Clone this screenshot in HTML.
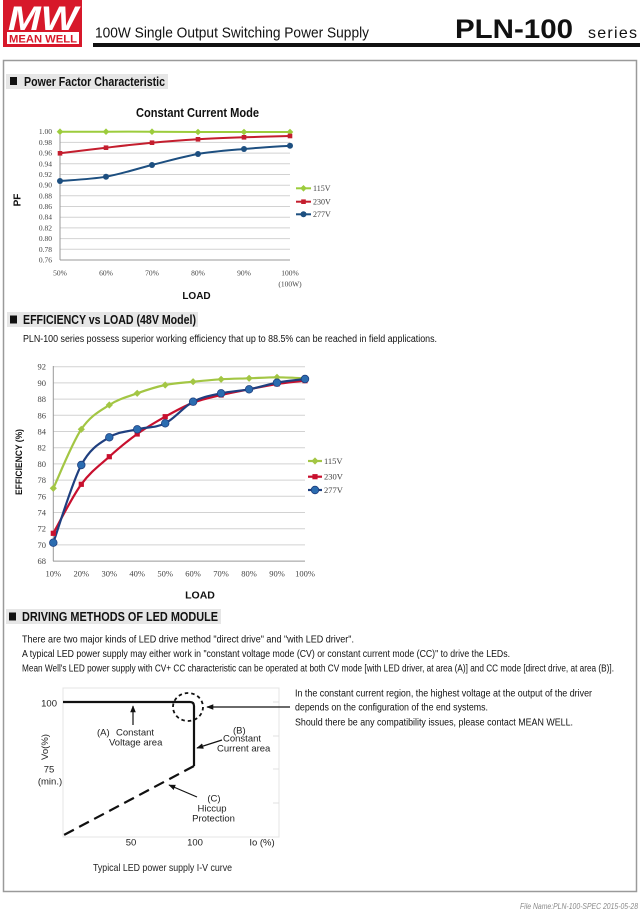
<!DOCTYPE html>
<html><head><meta charset="utf-8"><style>
html,body{margin:0;padding:0;background:#fff;}
svg{display:block;}
text{font-family:"Liberation Sans",Arial,sans-serif;}
.serif text, text.serif{font-family:"Liberation Serif","Times New Roman",serif;}
</style></head><body>
<svg width="640" height="910" viewBox="0 0 640 910" xmlns="http://www.w3.org/2000/svg">
<defs>
<path id="dia" d="M0,-3.3 L3.3,0 L0,3.3 L-3.3,0Z"/>
<rect id="sq" x="-2.3" y="-2.3" width="4.6" height="4.6"/>
<circle id="cir" r="3"/>
<circle id="cirB" r="3.8"/>
<rect id="sqB" x="-2.6" y="-2.6" width="5.2" height="5.2"/>
<path id="diaB" d="M0,-3.6 L3.6,0 L0,3.6 L-3.6,0Z"/>
<marker id="ah" viewBox="0 0 10 10" refX="9" refY="5" markerWidth="7" markerHeight="7" orient="auto-start-reverse" markerUnits="userSpaceOnUse"><path d="M0,1 L10,5 L0,9Z" fill="#111"/></marker>
</defs>
<rect width="640" height="910" fill="#fff"/>

<!-- Header -->
<rect x="3" y="0" width="79" height="47" fill="#d7182a"/>
<text x="8" y="30" font-size="34" font-weight="bold" font-style="italic" fill="#fff" textLength="70" lengthAdjust="spacingAndGlyphs">MW</text>
<rect x="7" y="32" width="72" height="12" fill="#fff"/>
<text x="9" y="42.5" font-size="11" font-weight="bold" fill="#d7182a" textLength="68" lengthAdjust="spacingAndGlyphs">MEAN WELL</text>
<text x="95" y="37.5" font-size="14.5" fill="#111" textLength="274" lengthAdjust="spacingAndGlyphs">100W Single Output Switching Power Supply</text>
<text x="455" y="38" font-size="27" font-weight="bold" fill="#111" textLength="118" lengthAdjust="spacingAndGlyphs">PLN-100</text>
<text x="588" y="38" font-size="16" fill="#111" textLength="49" lengthAdjust="spacing">series</text>
<rect x="93" y="43" width="547" height="4" fill="#111"/>

<!-- Outer box -->
<rect x="3.5" y="60.5" width="633" height="831" fill="none" stroke="#9a9a9a" stroke-width="1.5"/>

<!-- Section 1 -->
<rect x="6" y="74" width="162" height="15" fill="#e6e6e6"/>
<rect x="10" y="77" width="7" height="8" fill="#111"/>
<text x="24" y="86" font-size="12.5" font-weight="bold" fill="#111" textLength="141" lengthAdjust="spacingAndGlyphs">Power Factor Characteristic</text>

<!-- PF chart -->
<text x="136" y="117" font-size="12.5" font-weight="bold" fill="#111" textLength="123" lengthAdjust="spacingAndGlyphs">Constant Current Mode</text>
<g stroke="#d2d2d2" stroke-width="1">
<line x1="60" x2="290" y1="131.7" y2="131.7"/><line x1="60" x2="290" y1="142.4" y2="142.4"/>
<line x1="60" x2="290" y1="153.1" y2="153.1"/><line x1="60" x2="290" y1="163.8" y2="163.8"/>
<line x1="60" x2="290" y1="174.5" y2="174.5"/><line x1="60" x2="290" y1="185.2" y2="185.2"/>
<line x1="60" x2="290" y1="195.8" y2="195.8"/><line x1="60" x2="290" y1="206.5" y2="206.5"/>
<line x1="60" x2="290" y1="217.2" y2="217.2"/><line x1="60" x2="290" y1="227.9" y2="227.9"/>
<line x1="60" x2="290" y1="238.6" y2="238.6"/><line x1="60" x2="290" y1="249.3" y2="249.3"/>
</g>
<line x1="60" x2="60" y1="131" y2="260" stroke="#999"/>
<line x1="60" x2="290" y1="260" y2="260" stroke="#999"/>
<g class="serif" font-size="7.5" fill="#444" text-anchor="end">
<text x="52" y="134.2">1.00</text><text x="52" y="144.9">0.98</text><text x="52" y="155.6">0.96</text>
<text x="52" y="166.3">0.94</text><text x="52" y="177">0.92</text><text x="52" y="187.7">0.90</text>
<text x="52" y="198.3">0.88</text><text x="52" y="209">0.86</text><text x="52" y="219.7">0.84</text>
<text x="52" y="230.4">0.82</text><text x="52" y="241.1">0.80</text><text x="52" y="251.8">0.78</text>
<text x="52" y="262.5">0.76</text>
</g>
<g class="serif" font-size="7.5" fill="#444" text-anchor="middle">
<text x="60" y="275.5">50%</text><text x="106" y="275.5">60%</text><text x="152" y="275.5">70%</text>
<text x="198" y="275.5">80%</text><text x="244" y="275.5">90%</text><text x="290" y="275.5">100%</text>
<text x="290" y="286.5">(100W)</text>
</g>
<text x="196.5" y="299" font-size="10" font-weight="bold" fill="#111" text-anchor="middle">LOAD</text>
<text transform="translate(20.5,200) rotate(-90)" font-size="10" font-weight="bold" fill="#111" text-anchor="middle">PF</text>

<path id="pfg" d="M60,131.7 L106,131.7 L152,131.7 L198,132 L244,132 L290,132" fill="none" stroke="#9ccc3c" stroke-width="2"/>
<path id="pfr" d="M60,153.3 L106,147.7 L152,142.7 L198,139.3 L244,137.3 L290,136" fill="none" stroke="#c41e2e" stroke-width="2"/>
<path id="pfb" d="M60,181 L106,176.7 L152,165 L198,154 L244,149 L290,145.7" fill="none" stroke="#1d4f80" stroke-width="2"/>
<g fill="#9ccc3c">
<use href="#dia" x="60" y="131.7"/><use href="#dia" x="106" y="131.7"/><use href="#dia" x="152" y="131.7"/>
<use href="#dia" x="198" y="132"/><use href="#dia" x="244" y="132"/><use href="#dia" x="290" y="132"/>
</g>
<g fill="#c41e2e">
<use href="#sq" x="60" y="153.3"/><use href="#sq" x="106" y="147.7"/><use href="#sq" x="152" y="142.7"/>
<use href="#sq" x="198" y="139.3"/><use href="#sq" x="244" y="137.3"/><use href="#sq" x="290" y="136"/>
</g>
<g fill="#1d4f80">
<use href="#cir" x="60" y="181"/><use href="#cir" x="106" y="176.7"/><use href="#cir" x="152" y="165"/>
<use href="#cir" x="198" y="154"/><use href="#cir" x="244" y="149"/><use href="#cir" x="290" y="145.7"/>
</g>
<!-- PF legend -->
<line x1="296" x2="311" y1="188.3" y2="188.3" stroke="#9ccc3c" stroke-width="2"/><use href="#dia" x="303.5" y="188.3" fill="#9ccc3c"/>
<line x1="296" x2="311" y1="201.7" y2="201.7" stroke="#c41e2e" stroke-width="2"/><use href="#sq" x="303.5" y="201.7" fill="#c41e2e"/>
<line x1="296" x2="311" y1="214.3" y2="214.3" stroke="#1d4f80" stroke-width="2"/><use href="#cir" x="303.5" y="214.3" fill="#1d4f80"/>
<g class="serif" font-size="8" fill="#444">
<text x="313" y="191">115V</text><text x="313" y="204.5">230V</text><text x="313" y="217">277V</text>
</g>

<!-- Section 2 -->
<rect x="7" y="312" width="191" height="15" fill="#e6e6e6"/>
<rect x="10" y="315.5" width="7" height="8" fill="#111"/>
<text x="23" y="324" font-size="12.5" font-weight="bold" fill="#111" textLength="173" lengthAdjust="spacingAndGlyphs">EFFICIENCY vs LOAD (48V Model)</text>
<text x="23" y="342" font-size="10" fill="#111" textLength="414" lengthAdjust="spacingAndGlyphs">PLN-100 series possess superior working efficiency that up to 88.5% can be reached in field applications.</text>

<!-- Efficiency chart -->
<g stroke="#d2d2d2" stroke-width="1">
<line x1="53" x2="305" y1="366.7" y2="366.7"/><line x1="53" x2="305" y1="382.9" y2="382.9"/>
<line x1="53" x2="305" y1="399.1" y2="399.1"/><line x1="53" x2="305" y1="415.3" y2="415.3"/>
<line x1="53" x2="305" y1="431.5" y2="431.5"/><line x1="53" x2="305" y1="447.7" y2="447.7"/>
<line x1="53" x2="305" y1="463.9" y2="463.9"/><line x1="53" x2="305" y1="480.1" y2="480.1"/>
<line x1="53" x2="305" y1="496.3" y2="496.3"/><line x1="53" x2="305" y1="512.5" y2="512.5"/>
<line x1="53" x2="305" y1="528.7" y2="528.7"/><line x1="53" x2="305" y1="544.9" y2="544.9"/>
</g>
<line x1="53.3" x2="53.3" y1="366" y2="561.1" stroke="#999"/>
<line x1="53" x2="305" y1="561.1" y2="561.1" stroke="#999"/>
<g class="serif" font-size="8.5" fill="#444" text-anchor="end">
<text x="46" y="369.7">92</text><text x="46" y="385.9">90</text><text x="46" y="402.1">88</text>
<text x="46" y="418.3">86</text><text x="46" y="434.5">84</text><text x="46" y="450.7">82</text>
<text x="46" y="466.9">80</text><text x="46" y="483.1">78</text><text x="46" y="499.3">76</text>
<text x="46" y="515.5">74</text><text x="46" y="531.7">72</text><text x="46" y="547.9">70</text>
<text x="46" y="564.1">68</text>
</g>
<g class="serif" font-size="8.5" fill="#444" text-anchor="middle">
<text x="53.3" y="576.3">10%</text><text x="81.3" y="576.3">20%</text><text x="109.3" y="576.3">30%</text>
<text x="137.2" y="576.3">40%</text><text x="165.2" y="576.3">50%</text><text x="193.1" y="576.3">60%</text>
<text x="221.1" y="576.3">70%</text><text x="249.1" y="576.3">80%</text><text x="277" y="576.3">90%</text>
<text x="305" y="576.3">100%</text>
</g>
<text x="200" y="598.5" font-size="10.5" font-weight="bold" fill="#111" text-anchor="middle">LOAD</text>
<text transform="translate(22,462) rotate(-90)" font-size="9.5" font-weight="bold" fill="#111" text-anchor="middle" textLength="66" lengthAdjust="spacingAndGlyphs">EFFICIENCY (%)</text>

<path id="efg" d="M53.3,488.3 L81.3,429.3 L109.3,405 L137.2,393.3 L165.2,385 L193.1,381.7 L221.1,379.3 L249.1,378.3 L277,377.3 L305,378.3" fill="none" stroke="#a3c644" stroke-width="2.2"/>
<path id="efr" d="M53.3,533.3 L81.3,484.3 L109.3,456.7 L137.2,434 L165.2,416.7 L193.1,402.7 L221.1,395 L249.1,389.3 L277,384 L305,380.7" fill="none" stroke="#c8102e" stroke-width="2.2"/>
<path id="efb" d="M53.3,542.7 L81.3,465 L109.3,437.3 L137.2,429.3 L165.2,423.3 L193.1,401.7 L221.1,393.3 L249.1,389.3 L277,382.7 L305,379" fill="none" stroke="#1f3f7f" stroke-width="2.2"/>
<g fill="#a3c644">
<use href="#diaB" x="53.3" y="488.3"/><use href="#diaB" x="81.3" y="429.3"/><use href="#diaB" x="109.3" y="405"/>
<use href="#diaB" x="137.2" y="393.3"/><use href="#diaB" x="165.2" y="385"/><use href="#diaB" x="193.1" y="381.7"/>
<use href="#diaB" x="221.1" y="379.3"/><use href="#diaB" x="249.1" y="378.3"/><use href="#diaB" x="277" y="377.3"/>
<use href="#diaB" x="305" y="378.3"/>
</g>
<g fill="#c8102e">
<use href="#sqB" x="53.3" y="533.3"/><use href="#sqB" x="81.3" y="484.3"/><use href="#sqB" x="109.3" y="456.7"/>
<use href="#sqB" x="137.2" y="434"/><use href="#sqB" x="165.2" y="416.7"/><use href="#sqB" x="193.1" y="402.7"/>
<use href="#sqB" x="221.1" y="395"/><use href="#sqB" x="249.1" y="389.3"/><use href="#sqB" x="277" y="384"/>
<use href="#sqB" x="305" y="380.7"/>
</g>
<g fill="#2b6cb0" stroke="#1f3f7f" stroke-width="0.8">
<use href="#cirB" x="53.3" y="542.7"/><use href="#cirB" x="81.3" y="465"/><use href="#cirB" x="109.3" y="437.3"/>
<use href="#cirB" x="137.2" y="429.3"/><use href="#cirB" x="165.2" y="423.3"/><use href="#cirB" x="193.1" y="401.7"/>
<use href="#cirB" x="221.1" y="393.3"/><use href="#cirB" x="249.1" y="389.3"/><use href="#cirB" x="277" y="382.7"/>
<use href="#cirB" x="305" y="379"/>
</g>
<!-- Eff legend -->
<line x1="308" x2="322" y1="461" y2="461" stroke="#a3c644" stroke-width="2.2"/><use href="#diaB" x="315" y="461" fill="#a3c644"/>
<line x1="308" x2="322" y1="476.7" y2="476.7" stroke="#c8102e" stroke-width="2.2"/><use href="#sqB" x="315" y="476.7" fill="#c8102e"/>
<line x1="308" x2="322" y1="490" y2="490" stroke="#1f3f7f" stroke-width="2.2"/><use href="#cirB" x="315" y="490" fill="#2b6cb0" stroke="#1f3f7f" stroke-width="0.8"/>
<g class="serif" font-size="8.5" fill="#444">
<text x="324" y="464">115V</text><text x="324" y="479.7">230V</text><text x="324" y="493">277V</text>
</g>

<!-- Section 3 -->
<rect x="6" y="609" width="215" height="15" fill="#e6e6e6"/>
<rect x="9" y="612.5" width="7" height="8" fill="#111"/>
<text x="22" y="621" font-size="12.5" font-weight="bold" fill="#111" textLength="196" lengthAdjust="spacingAndGlyphs">DRIVING METHODS OF LED MODULE</text>
<g font-size="10" fill="#111">
<text x="22" y="642.5" textLength="332" lengthAdjust="spacingAndGlyphs">There are two major kinds of LED drive method "direct drive" and "with LED driver".</text>
<text x="22" y="657" textLength="488" lengthAdjust="spacingAndGlyphs">A typical LED power supply may either work in "constant voltage mode (CV) or constant current mode (CC)" to drive the LEDs.</text>
<text x="22" y="671.5" textLength="592" lengthAdjust="spacingAndGlyphs">Mean Well's LED power supply with CV+ CC characteristic can be operated at both CV mode [with LED driver, at area (A)] and CC mode [direct drive, at area (B)].</text>
<text x="295" y="696.5" textLength="297" lengthAdjust="spacingAndGlyphs">In the constant current region, the highest voltage at the output of the driver</text>
<text x="295" y="710.5" textLength="193" lengthAdjust="spacingAndGlyphs">depends on the configuration of the end systems.</text>
<text x="295" y="725.5" textLength="278" lengthAdjust="spacingAndGlyphs">Should there be any compatibility issues, please contact MEAN WELL.</text>
</g>

<!-- I-V diagram -->
<rect x="63" y="688" width="216" height="149" fill="none" stroke="#e4e4e4" stroke-width="1"/>
<g stroke="#e0e0e0" stroke-width="1">
<line x1="273" x2="279" y1="702" y2="702"/><line x1="273" x2="279" y1="736" y2="736"/>
<line x1="273" x2="279" y1="769" y2="769"/><line x1="273" x2="279" y1="803" y2="803"/>
</g>
<path d="M63,702 H190 Q194,702 194,706 V766" fill="none" stroke="#111" stroke-width="2.2"/>
<path d="M194,766 L62,836" fill="none" stroke="#111" stroke-width="2.2" stroke-dasharray="11,6"/>
<ellipse cx="188" cy="707" rx="15" ry="14" fill="none" stroke="#111" stroke-width="1.8" stroke-dasharray="3.5,3"/>
<g stroke="#111" stroke-width="1.2" fill="none">
<line x1="290" y1="707" x2="207" y2="707" marker-end="url(#ah)"/>
<line x1="133" y1="725" x2="133" y2="706" marker-end="url(#ah)"/>
<line x1="222" y1="740" x2="197" y2="748" marker-end="url(#ah)"/>
<line x1="197" y1="797" x2="169" y2="785" marker-end="url(#ah)"/>
</g>
<g font-size="9.5" fill="#222">
<text x="57" y="706.5" text-anchor="end">100</text>
<text x="97" y="735.5">(A)</text><text x="116" y="735.5">Constant</text>
<text x="109" y="745.5">Voltage area</text>
<text x="233" y="733.5">(B)</text><text x="223" y="741.5">Constant</text>
<text x="217" y="751.5">Current area</text>
<text transform="translate(48,747) rotate(-90)" text-anchor="middle">Vo(%)</text>
<text x="49" y="772.5" text-anchor="middle">75</text>
<text x="50" y="784.5" text-anchor="middle">(min.)</text>
<text x="214" y="801.5" text-anchor="middle">(C)</text>
<text x="212" y="811.5" text-anchor="middle">Hiccup</text>
<text x="213.5" y="821.5" text-anchor="middle">Protection</text>
<text x="131" y="845.5" text-anchor="middle">50</text>
<text x="195" y="845.5" text-anchor="middle">100</text>
<text x="262" y="845.5" text-anchor="middle">Io (%)</text>
</g>
<text x="93" y="871" font-size="10.5" fill="#222" textLength="139" lengthAdjust="spacingAndGlyphs">Typical LED power supply I-V curve</text>

<!-- Footer -->
<text x="520" y="909" font-size="8" font-style="italic" fill="#8a8a8a" textLength="118" lengthAdjust="spacingAndGlyphs">File Name:PLN-100-SPEC  2015-05-28</text>
</svg>
<script>
(function(){
function sm(id,xs,ys){
  var el=document.getElementById(id); if(!el) return;
  var n=xs.length, d='M'+xs[0]+','+ys[0];
  for(var i=0;i<n-1;i++){
    var i0=Math.max(i-1,0), i3=Math.min(i+2,n-1);
    var c1x=xs[i]+(xs[i+1]-xs[i0])/6, c1y=ys[i]+(ys[i+1]-ys[i0])/6;
    var c2x=xs[i+1]-(xs[i3]-xs[i])/6, c2y=ys[i+1]-(ys[i3]-ys[i])/6;
    d+=' C'+c1x.toFixed(2)+','+c1y.toFixed(2)+' '+c2x.toFixed(2)+','+c2y.toFixed(2)+' '+xs[i+1]+','+ys[i+1];
  }
  el.setAttribute('d',d);
}
var px=[60,106,152,198,244,290];
sm('pfg',px,[131.7,131.7,131.7,132,132,132]);
sm('pfr',px,[153.3,147.7,142.7,139.3,137.3,136]);
sm('pfb',px,[181,176.7,165,154,149,145.7]);
var ex=[53.3,81.3,109.3,137.2,165.2,193.1,221.1,249.1,277,305];
sm('efg',ex,[488.3,429.3,405,393.3,385,381.7,379.3,378.3,377.3,378.3]);
sm('efr',ex,[533.3,484.3,456.7,434,416.7,402.7,395,389.3,384,380.7]);
sm('efb',ex,[542.7,465,437.3,429.3,423.3,401.7,393.3,389.3,382.7,379]);
})();
</script>
</body></html>
